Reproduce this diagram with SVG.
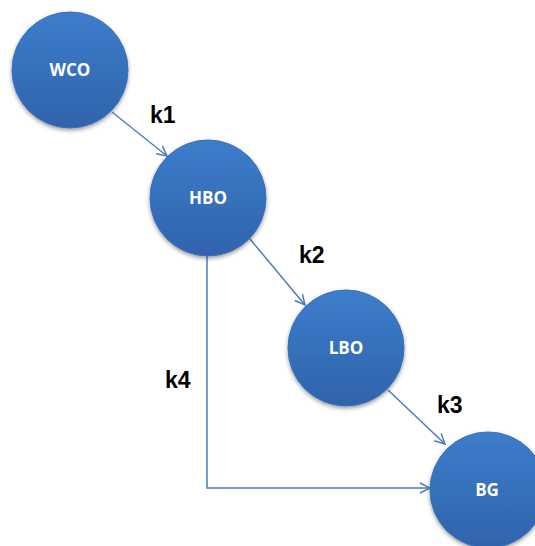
<svg xmlns="http://www.w3.org/2000/svg" width="535" height="546" viewBox="0 0 535 546">
<defs>
<linearGradient id="g" x1="0" y1="0" x2="0" y2="1">
<stop offset="0" stop-color="#3d7dcb"/>
<stop offset="1" stop-color="#2f63ab"/>
</linearGradient>
<filter id="sh" x="-20%" y="-20%" width="140%" height="150%">
<feGaussianBlur in="SourceAlpha" stdDeviation="2"/>
<feOffset dy="2" result="b"/>
<feComponentTransfer><feFuncA type="linear" slope="0.4"/></feComponentTransfer>
<feMerge><feMergeNode/><feMergeNode in="SourceGraphic"/></feMerge>
</filter>
<marker id="arr" viewBox="0 0 12 12" refX="11" refY="6" markerWidth="12" markerHeight="12" markerUnits="userSpaceOnUse" orient="auto">
<path d="M1,1 L11,6 L1,11" fill="none" stroke="#4a7ebb" stroke-width="1.5"/>
</marker>
</defs>
<style>
.n circle{fill:url(#g);stroke:#3a70b8;stroke-width:1;filter:url(#sh)}
.n text{fill:#fff;font-family:"Open Sans","Liberation Sans",sans-serif;font-weight:bold;font-size:17px;text-anchor:middle}
.c{fill:none;stroke:#4a7ebb;stroke-width:1.5;marker-end:url(#arr)}
.k{font-family:"Liberation Sans",Arial,sans-serif;font-weight:bold;font-size:23px;fill:#000}
</style>
<rect width="535" height="546" fill="#fff"/>
<g id="connectors">
<line class="c" x1="112" y1="112" x2="167" y2="156"/>
<line class="c" x1="250" y1="239" x2="305" y2="305"/>
<line class="c" x1="388" y1="390" x2="445" y2="444"/>
<polyline class="c" points="207,256 207,488 430,488"/>
</g>
<g id="WCO" class="n"><circle cx="70" cy="70" r="58"/><text x="70" y="76">WCO</text></g>
<g id="HBO" class="n"><circle cx="208" cy="198" r="58"/><text x="208" y="204">HBO</text></g>
<g id="LBO" class="n"><circle cx="346" cy="348" r="58"/><text x="346" y="354">LBO</text></g>
<g id="BG" class="n"><circle cx="488" cy="490" r="58"/><text x="487" y="496">BG</text></g>
<g id="labels">
<text class="k" x="150" y="123">k1</text>
<text class="k" x="299" y="263">k2</text>
<text class="k" x="437" y="413">k3</text>
<text class="k" x="165" y="388">k4</text>
</g>
</svg>
